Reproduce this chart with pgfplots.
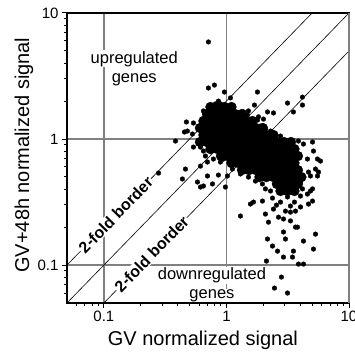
\documentclass[border=0pt]{standalone}
\usepackage{fontspec}
\setmainfont{Liberation Sans}
\usepackage{pgfplots}
\usepackage{pgfplotstable}
\pgfplotsset{compat=1.18}

\pgfplotstableread{
x y
0.740 1.795
0.845 1.795
0.963 1.795
1.099 1.795
0.693 1.58
0.790 1.58
0.902 1.58
1.028 1.58
1.174 1.58
1.338 1.58
0.649 1.39
0.740 1.39
0.845 1.39
0.963 1.39
1.099 1.39
1.253 1.39
1.429 1.39
1.630 1.39
0.608 1.223
0.693 1.223
0.790 1.223
0.902 1.223
1.028 1.223
1.174 1.223
1.338 1.223
1.526 1.223
1.741 1.223
1.985 1.223
0.649 1.076
0.740 1.076
0.845 1.076
0.963 1.076
1.099 1.076
1.253 1.076
1.429 1.076
1.630 1.076
1.859 1.076
2.12 1.076
2.42 1.076
0.608 0.947
0.693 0.947
0.790 0.947
0.902 0.947
1.028 0.947
1.174 0.947
1.338 0.947
1.526 0.947
1.741 0.947
1.985 0.947
2.26 0.947
2.58 0.947
2.95 0.947
3.36 0.947
0.740 0.833
0.845 0.833
0.963 0.833
1.099 0.833
1.253 0.833
1.429 0.833
1.630 0.833
1.859 0.833
2.12 0.833
2.42 0.833
2.76 0.833
3.15 0.833
3.59 0.833
0.902 0.733
1.028 0.733
1.174 0.733
1.338 0.733
1.526 0.733
1.741 0.733
1.985 0.733
2.26 0.733
2.58 0.733
2.95 0.733
3.36 0.733
3.83 0.733
1.099 0.645
1.253 0.645
1.429 0.645
1.630 0.645
1.859 0.645
2.12 0.645
2.42 0.645
2.76 0.645
3.15 0.645
3.59 0.645
1.338 0.567
1.526 0.567
1.741 0.567
1.985 0.567
2.26 0.567
2.58 0.567
2.95 0.567
3.36 0.567
3.83 0.567
1.859 0.499
2.12 0.499
2.42 0.499
2.76 0.499
3.15 0.499
3.59 0.499
4.09 0.499
2.58 0.440
2.95 0.440
3.36 0.440
3.83 0.440
2.76 0.387
3.15 0.387
3.59 0.387
}\coredata

\pgfplotstableread{
x y
0.713 5.89
0.713 2.54
0.798 2.68
0.963 2.36
1.078 2.12
1.791 2.36
1.692 1.86
1.825 1.50
2.162 1.64
2.42 1.61
3.15 1.93
4.17 2.15
4.17 1.86
3.52 1.64
2.005 1.44
1.377 1.64
1.512 1.67
1.140 1.83
0.893 1.90
0.813 1.90
0.740 1.83
0.860 2.00
0.471 1.365
0.538 1.34
0.480 1.157
0.454 1.137
1.791 1.415
1.484 1.55
1.895 1.268
2.08 1.20
0.384 0.964
0.528 1.096
0.649 1.67
1.253 1.61
1.403 1.44
1.630 1.34
2.29 1.157
2.76 1.056
3.87 0.964
0.538 0.864
0.614 0.864
0.649 0.803
0.463 0.578
0.614 0.610
0.700 0.657
0.783 0.694
0.945 0.694
1.078 0.634
0.279 0.537
0.437 0.482
0.580 0.456
0.614 0.416
0.649 0.424
0.700 0.509
0.769 0.440
0.860 0.518
0.981 0.416
1.019 0.509
1.301 0.245
0.674 0.733
0.893 0.657
1.119 0.578
1.301 0.528
1.512 0.499
1.725 0.464
1.967 0.440
2.08 0.402
4.25 0.913
5.04 0.947
5.13 0.803
4.58 0.694
5.53 0.694
5.85 0.669
5.33 0.578
5.64 0.547
4.67 0.547
4.85 0.509
5.53 0.509
5.04 0.402
4.58 0.366
3.80 0.424
4.85 0.387
5.04 0.322
4.67 0.305
4.02 0.289
3.66 0.268
3.33 0.263
3.80 0.200
2.42 0.278
2.08 0.254
2.203 0.219
2.66 0.240
2.92 0.232
3.33 0.224
1.661 0.316
1.570 0.305
1.967 0.322
2.375 0.340
2.76 0.316
3.15 0.347
3.59 0.316
4.02 0.353
2.56 0.299
3.33 0.294
3.03 0.268
2.29 0.387
4.17 0.402
4.02 0.456
2.162 0.161
2.92 0.183
3.66 0.200
4.25 0.155
5.33 0.176
5.13 0.134
2.375 0.1416
2.61 0.129
2.92 0.1157
3.46 0.1157
3.52 0.129
3.03 0.161
2.12 0.1076
3.87 0.1018
4.25 0.1018
2.81 0.0803
2.465 0.0657
3.15 0.060
}\edgedata

\begin{document}
\begin{tikzpicture}
\begin{axis}[
  scale only axis, width=282pt, height=290pt,
  xmode=log, ymode=log,
  xmin=0.05, xmax=10, ymin=0.05, ymax=10,
  clip=false,
  axis line style={line width=1.2pt, black},
  xtick={0.1,1,10}, xticklabels={0.1,1,10},
  ytick={0.1,1,10}, yticklabels={0.1,1,10},
  minor xtick={0.06,0.07,0.08,0.09,0.2,0.3,0.4,0.5,0.6,0.7,0.8,0.9,2,3,4,5,6,7,8,9},
  minor ytick={0.06,0.07,0.08,0.09,0.2,0.3,0.4,0.5,0.6,0.7,0.8,0.9,2,3,4,5,6,7,8,9},
  xtick pos=bottom, ytick pos=left,
  tick align=outside,
  major tick length=5pt, minor tick length=3pt,
  every tick/.style={black, line width=1pt},
  xmajorgrids, ymajorgrids,
  grid style={draw=gray, line width=1.4pt},
  major grid style={draw=gray, line width=1.4pt},
  /pgf/number format/assume math mode=true,
  tick label style={font=\fontsize{15}{18}\selectfont},
  label style={font=\fontsize{20}{23}\selectfont},
  xlabel={GV normalized signal},
  ylabel={GV+48h normalized signal},
  xlabel style={at={(axis description cs:0.482,-0.1276)}, anchor=center},
  ylabel style={at={(axis description cs:-0.1525,0.51)}, anchor=center},
]
\addplot[black, line width=0.6pt] coordinates {(0.05,0.05) (10,10)};
\addplot[black, line width=0.6pt] coordinates {(0.05,0.1) (5,10)};
\addplot[black, line width=0.6pt] coordinates {(0.1,0.05) (10,5)};
\draw[gray, line width=1.4pt] (rel axis cs:1,0) -- (rel axis cs:1,1);
\addplot[only marks, mark=*, mark size=5pt, mark options={fill=black, draw=black, line width=0.2pt}] table[x=x, y=y] {\coredata};
\addplot[only marks, mark=*, mark size=2.4pt, mark options={fill=black, draw=black, line width=0.2pt}] table[x=x, y=y] {\edgedata};
\node[fill=white, inner sep=1pt, rotate=45.8, font=\bfseries\fontsize{16}{18}\selectfont] at (axis cs:0.125,0.25) {2-fold border};
\node[fill=white, inner sep=1pt, rotate=45.8, font=\bfseries\fontsize{16}{18}\selectfont] at (axis cs:0.245,0.1225) {2-fold border};
\node[fill=white, inner sep=1pt, anchor=base, font=\fontsize{16.5}{18}\selectfont] at (axis cs:0.177,4.01) {upregulated};
\node[fill=white, inner sep=1pt, anchor=base, font=\fontsize{16.5}{18}\selectfont] at (axis cs:0.177,2.83) {genes};
\node[fill=white, inner sep=0.5pt, anchor=base, font=\fontsize{16.5}{18}\selectfont] at (axis cs:0.762,0.0767) {downregulated};
\node[fill=white, inner sep=0.5pt, anchor=base, font=\fontsize{16.5}{18}\selectfont] at (axis cs:0.762,0.0547) {genes};
\end{axis}
\path (current axis.south west) ++(-67pt,-50pt) coordinate (bl);
\path (current axis.north east) ++(6pt,13pt) coordinate (tr);
\pgfresetboundingbox
\path (bl) rectangle (tr);
\end{tikzpicture}
\end{document}
